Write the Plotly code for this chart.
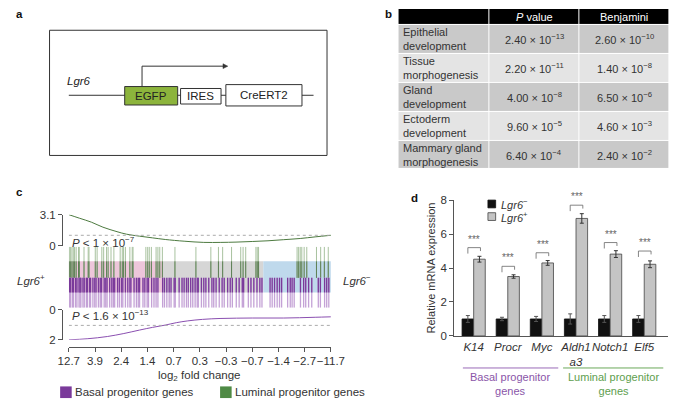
import plotly.graph_objects as go

W, H = 685, 406

def px(x):
    return x / W

def py(y):
    return 1 - y / H

# ---------------- data ----------------
# panel b
terms = ["Epithelial<br>development", "Tissue<br>morphogenesis", "Gland<br>development",
         "Ectoderm<br>development", "Mammary gland<br>morphogenesis"]
p_values = ["2.40 × 10<sup>−13</sup>", "2.20 × 10<sup>−11</sup>", "4.00 × 10<sup>−8</sup>",
            "9.60 × 10<sup>−5</sup>", "6.40 × 10<sup>−4</sup>"]
benjamini = ["2.60 × 10<sup>−10</sup>", "1.40 × 10<sup>−8</sup>", "6.50 × 10<sup>−6</sup>",
             "4.60 × 10<sup>−3</sup>", "2.40 × 10<sup>−2</sup>"]
table_header = ["", "<i>P</i> value", "Benjamini"]

# panel c (x is rank percentile of genes ordered by log2 fold change)
fc_ticks = [0, 10, 20, 30, 40, 50, 60, 70, 80, 90, 100]
fc_labels = ["12.7", "3.9", "2.4", "1.4", "0.7", "0.3", "−0.3", "−0.7", "−1.4", "−2.7", "−11.7"]

green_curve_x = [0, 4, 8.6, 13, 18.4, 22, 27, 32, 36.8, 44, 51.5, 58, 63.8, 70, 76, 82, 88.3, 94, 100]
green_curve_y = [3.1, 2.75, 2.35, 1.85, 1.4, 1.15, 0.95, 0.78, 0.62, 0.45, 0.33, 0.33, 0.36, 0.42, 0.49, 0.6, 0.72, 0.88, 1.04]
purple_curve_x = [0, 7, 14.7, 21, 27, 32, 36.8, 41, 45.4, 51, 57.7, 64, 70, 76, 82, 88, 94, 100]
purple_curve_y = [2.0, 1.93, 1.78, 1.58, 1.35, 1.17, 1.02, 0.86, 0.74, 0.64, 0.58, 0.56, 0.55, 0.55, 0.55, 0.53, 0.5, 0.47]

luminal_hits = [0.2, 0.7, 1.2, 1.7, 2.2, 2.8, 3.7, 4.0, 5.8, 7.4, 7.7, 10.1, 10.8, 12.6, 13.3, 14.4,
                15.0, 16.1, 17.2, 19.6, 20.4, 20.9, 21.6, 23.3, 24.2, 24.5, 29.4, 30.1, 30.7, 31.5,
                33.3, 34.0, 34.7, 35.7, 40.5, 48.5, 54.2, 57.1, 58.7, 62.1, 65.6, 66.5, 67.5, 71.4,
                71.9, 72.4, 87.1, 87.7, 88.3, 88.9, 89.8, 90.8, 94.5, 96.1, 97.5, 99.0]
basal_hits = [0.3, 0.7, 1.4, 1.8, 2.6, 3.1, 3.9, 4.3, 4.6, 5.4, 5.9, 6.7, 7.1, 7.9, 8.3, 9.2, 9.9,
              10.4, 11.3, 12.0, 12.5, 13.5, 14.1, 14.6, 15.6, 16.4, 17.0, 17.5, 18.6, 19.3, 20.1,
              20.6, 21.6, 22.5, 23.3, 23.7, 24.9, 25.8, 26.5, 27.0, 28.3, 29.0, 29.9, 30.4, 31.6,
              32.5, 33.3, 34.0, 35.8, 36.5, 37.4, 38.3, 39.0, 40.2, 40.6, 42.1, 43.2, 44.0, 44.9,
              45.6, 46.5, 47.3, 48.2, 49.0, 49.4, 50.6, 51.5, 52.3, 53.4, 54.6, 55.3, 56.2, 57.4,
              58.5, 59.3, 60.6, 61.6, 62.4, 63.9, 65.0, 66.2, 66.7, 68.5, 69.5, 70.6, 71.8, 72.9,
              73.7, 76.8, 77.6, 78.5, 79.5, 80.4, 81.2, 83.5, 84.5, 85.2, 86.0, 88.4, 89.6, 90.4,
              91.5, 92.7, 95.2, 96.0, 97.6, 98.4, 99.2]

# panel d
genes = ["K14", "Procr", "Myc", "Aldh1<br>a3", "Notch1", "Elf5"]
neg_mean = [1.0, 1.0, 1.0, 1.0, 1.0, 1.0]
neg_err = [0.2, 0.1, 0.15, 0.3, 0.2, 0.2]
pos_mean = [4.52, 3.5, 4.3, 6.92, 4.82, 4.22]
pos_err = [0.17, 0.1, 0.14, 0.28, 0.2, 0.2]
bracket_y = [5.2, 4.1, 4.9, 7.7, 5.5, 5.0]

PURPLE = "#7a3a9a"
GREEN = "#4f8a45"
TXT = "#333333"
FONT = "Liberation Sans, Arial, sans-serif"

fig = go.Figure()
shapes = []
ann = []


def label(text, x, y, size=11, color=TXT, xanchor="left", yanchor="middle", xref="paper", yref="paper"):
    if xref == "paper":
        x = px(x)
    if yref == "paper":
        y = py(y)
    align = "left" if xanchor == "left" else "center"
    ann.append(dict(text=text, x=x, y=y, xref=xref, yref=yref, xanchor=xanchor, yanchor=yanchor,
                    align=align, showarrow=False, font=dict(size=size, color=color, family=FONT)))


# ---------------- panel b: table ----------------
col_edges = [0, 94, 188, 281]
row_edges = [0, 16, 46, 76, 106, 136, 165]
shade = [[2, 2, 2]] + [[1, 1, 1] if i % 2 == 0 else [0, 0, 0] for i in range(len(terms))]
fig.add_trace(go.Heatmap(x=col_edges, y=row_edges, z=shade, zmin=0, zmax=2,
                         colorscale=[[0, "#e4e4e4"], [0.5, "#c9c9c9"], [1, "#000000"]],
                         xgap=1, ygap=1, showscale=False, hoverinfo="skip",
                         xaxis="x5", yaxis="y5"))
col_text_x = [3, (col_edges[1] + col_edges[2]) / 2, (col_edges[2] + col_edges[3]) / 2]
col_anchor = ["left", "center", "center"]
for j, h in enumerate(table_header):
    if h:
        label(h, col_text_x[j], (row_edges[0] + row_edges[1]) / 2, size=11, color="white",
              xanchor=col_anchor[j], xref="x5", yref="y5")
for i, row in enumerate(zip(terms, p_values, benjamini)):
    yc = (row_edges[i + 1] + row_edges[i + 2]) / 2
    for j, t in enumerate(row):
        label(t, col_text_x[j], yc, size=11, color=TXT, xanchor=col_anchor[j], xref="x5", yref="y5")

# ---------------- panel c ----------------
fig.add_trace(go.Scatter(x=green_curve_x, y=green_curve_y, mode="lines", line_shape="spline",
                         line=dict(color="#4d7a40", width=1), xaxis="x", yaxis="y",
                         showlegend=False, hoverinfo="skip"))


def seg(xs, y0, y1):
    sx, sy = [], []
    for v in xs:
        sx += [v, v, None]
        sy += [y0, y1, None]
    return sx, sy


for vals, y0, y1, col, w in [
        (luminal_hits, 0.49, 1.0, "#a8c29f", 1),
        (luminal_hits, 0.49, 0.76, "#5e7f55", 1),
        (basal_hits, 0.0, 0.49, "#c4a2d6", 1.3),
        (basal_hits, 0.25, 0.49, PURPLE, 1.3)]:
    sx, sy = seg(vals, y0, y1)
    fig.add_trace(go.Scatter(x=sx, y=sy, mode="lines", line=dict(color=col, width=w),
                             xaxis="x2", yaxis="y2", showlegend=False, hoverinfo="skip"))

fig.add_trace(go.Scatter(x=purple_curve_x, y=purple_curve_y, mode="lines", line_shape="spline",
                         line=dict(color="#8a4fb0", width=1), xaxis="x3", yaxis="y3",
                         showlegend=False, hoverinfo="skip"))

# ---------------- panel d ----------------
xs = list(range(len(genes)))
fig.add_trace(go.Bar(x=xs, y=neg_mean, name="Lgr6-", showlegend=False,
                     marker=dict(color="#111111", line=dict(color="#111111", width=0.8)),
                     error_y=dict(type="data", array=neg_err, color="#555555", thickness=1, width=2),
                     xaxis="x4", yaxis="y4"))
fig.add_trace(go.Bar(x=xs, y=pos_mean, name="Lgr6+", showlegend=False,
                     marker=dict(color="#c4c4c4", line=dict(color="#444444", width=0.8)),
                     error_y=dict(type="data", array=pos_err, color="#333333", thickness=1, width=2),
                     xaxis="x4", yaxis="y4"))

# panel a diagram
shapes.append(dict(type="rect", xref="paper", yref="paper", x0=px(40), x1=px(328), y0=py(154), y1=py(25),
                   line=dict(color="#333", width=1)))
shapes.append(dict(type="line", xref="paper", yref="paper", x0=px(60), x1=px(314), y0=py(92), y1=py(92),
                   line=dict(color="#333", width=1)))
for x0, x1, y0, y1, fill, name in [(118, 173, 83, 102, "#8cb43c", "EGFP"),
                                    (176, 218, 85, 101, "white", "IRES"),
                                    (223, 302, 81, 103, "white", "CreERT2")]:
    shapes.append(dict(type="rect", xref="paper", yref="paper", x0=px(x0), x1=px(x1), y0=py(y1), y1=py(y0),
                       fillcolor=fill, line=dict(color="#333", width=1)))
    label(name, (x0 + x1) / 2, (y0 + y1) / 2, size=11.5, color="#222", xanchor="center")
shapes.append(dict(type="path", xref="paper", yref="paper",
                   path=f"M {px(136)},{py(83)} L {px(136)},{py(62)} L {px(221)},{py(62)}",
                   line=dict(color="#333", width=1)))
shapes.append(dict(type="path", xref="paper", yref="paper",
                   path=f"M {px(220)},{py(59.5)} L {px(225)},{py(62)} L {px(220)},{py(64.5)} Z",
                   fillcolor="#333", line=dict(color="#333", width=0.5)))
label("<i>Lgr6</i>", 56, 77, size=11.5, color="#222")

# panel c decorations
for x0, x1, col in [(0, 35.6, "#edc6da"), (35.6, 74.2, "#d6d6d6"), (74.2, 100, "#bfd9ec")]:
    shapes.append(dict(type="rect", xref="x2", yref="y2", x0=x0, x1=x1, y0=0.25, y1=0.76,
                       fillcolor=col, line=dict(width=0), layer="below"))
shapes.append(dict(type="line", xref="x", yref="y", x0=0, x1=103, y0=1.04, y1=1.04,
                   line=dict(color="#aaaaaa", width=1, dash="dot")))
shapes.append(dict(type="line", xref="x3", yref="y3", x0=0, x1=103, y0=1.04, y1=1.04,
                   line=dict(color="#aaaaaa", width=1, dash="dot")))
label("<i>P</i> < 1 × 10<sup>−7</sup>", 61, 243, size=11.5)
label("<i>P</i> < 1.6 × 10<sup>−13</sup>", 61, 318, size=11.5)
label("<i>Lgr6</i><sup>+</sup>", 4, 282, size=11.5)
label("<i>Lgr6</i><sup>−</sup>", 343, 282, size=11.5)
label("log<sub>2</sub> fold change", 196, 381, size=11.5, xanchor="center")
for x0, col, name in [(51, PURPLE, "Basal progenitor genes"), (217, GREEN, "Luminal progenitor genes")]:
    shapes.append(dict(type="rect", xref="paper", yref="paper", x0=px(x0), x1=px(x0 + 12),
                       y0=py(404), y1=py(392), fillcolor=col, line=dict(width=0)))
    label(name, x0 + 13, 398, size=11.5)

# panel d legend, brackets, group labels
for y0, col, lc, name in [(200, "#111111", "#111111", "<i>Lgr6</i><sup>−</sup>"),
                          (213, "#c4c4c4", "#444444", "<i>Lgr6</i><sup>+</sup>")]:
    shapes.append(dict(type="rect", xref="paper", yref="paper", x0=px(495), x1=px(503),
                       y0=py(y0 + 8), y1=py(y0), fillcolor=col, line=dict(color=lc, width=0.8)))
    label(name, 506, y0 + 4, size=11)
for i, yb in enumerate(bracket_y):
    shapes.append(dict(type="path", xref="x4", yref="y4",
                       path=f"M {i - 0.17},{yb - 0.35} L {i - 0.17},{yb} L {i + 0.2},{yb} L {i + 0.2},{yb - 0.2}",
                       line=dict(color="#666", width=0.8)))
    label("***", i + 0.02, yb + 0.05, size=10, color="#666666", xanchor="center", yanchor="bottom",
          xref="x4", yref="y4")
shapes.append(dict(type="line", xref="paper", yref="paper", x0=px(469), x1=px(568), y0=py(373), y1=py(373),
                   line=dict(color="#9a6bb8", width=1)))
shapes.append(dict(type="line", xref="paper", yref="paper", x0=px(573), x1=px(677), y0=py(373), y1=py(373),
                   line=dict(color="#6aa85a", width=1)))
label("Basal progenitor<br>genes", 518, 390, size=11, color="#8a55a8", xanchor="center")
label("Luminal progenitor<br>genes", 625, 390, size=11, color="#5e9e4e", xanchor="center")

# panel letters
for t, x, y in [("a", 3, 8), ("b", 386, 8), ("c", 3, 192), ("d", 413, 198)]:
    label(f"<b>{t}</b>", x, y, size=11.5, color="#111")

hidden = dict(showline=False, showgrid=False, zeroline=False, showticklabels=False, ticks="")
cdom = [px(60), px(332)]
axline = dict(showline=True, linecolor="#555", linewidth=1, showgrid=False, zeroline=False,
              ticks="outside", ticklen=4, tickcolor="#555", tickfont=dict(size=11.5))

fig.update_layout(
    width=W, height=H, margin=dict(l=0, r=0, t=0, b=0),
    paper_bgcolor="white", plot_bgcolor="rgba(0,0,0,0)",
    font=dict(family=FONT, color=TXT, size=11),
    barmode="group", bargap=0.32, bargroupgap=0, showlegend=False,
    shapes=shapes, annotations=ann,
    xaxis=dict(domain=cdom, range=[0, 100], anchor="y", **hidden),
    yaxis=dict(domain=[py(247), py(215)], range=[0, 3.1], anchor="free", position=px(53),
               tickvals=[0, 3.1], ticktext=["0", "3.1"], **axline),
    xaxis2=dict(domain=cdom, range=[0, 100], anchor="y2", **hidden),
    yaxis2=dict(domain=[py(311), py(248)], range=[0, 1], anchor="x2", **hidden),
    xaxis3=dict(domain=cdom, range=[0, 100], anchor="free", position=py(351),
                tickvals=fc_ticks, ticktext=fc_labels, tickangle=0, **axline),
    yaxis3=dict(domain=[py(344), py(313)], range=[2, 0], anchor="free", position=px(53),
                tickvals=[0, 2], ticktext=["0", "2"], **axline),
    xaxis4=dict(domain=[px(460), px(682)], range=[-0.57, 5.7], anchor="y4",
                tickvals=xs, ticktext=[f"<i>{g}</i>" for g in genes], tickangle=0,
                showline=True, linecolor="#555", linewidth=1, showgrid=False, zeroline=False,
                ticks="", tickfont=dict(size=11.5)),
    yaxis4=dict(domain=[py(340), py(200)], range=[0, 8], anchor="x4",
                tickvals=[0, 2, 4, 6, 8],
                title=dict(text="Relative mRNA expression", font=dict(size=11), standoff=2),
                **axline),
    xaxis5=dict(domain=[px(402), px(683)], range=[0, 281], anchor="y5", **hidden),
    yaxis5=dict(domain=[py(168), py(3)], range=[165, 0], anchor="x5", **hidden),
)

# the page body has a default 8px margin; drop it so the figure fills the window exactly
fig.write_html("out.html", config={"displayModeBar": False},
               post_script="document.body.style.margin='0';document.body.style.overflow='hidden';")
